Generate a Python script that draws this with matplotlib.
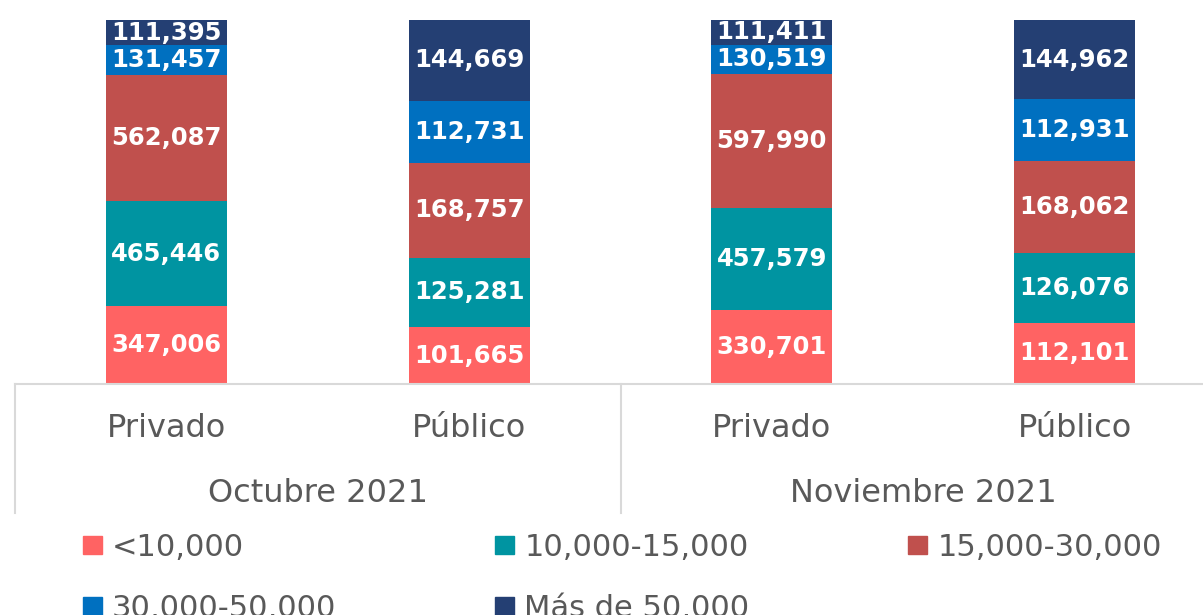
import numpy as np
import matplotlib.pyplot as plt
from matplotlib.patches import Patch

sectores = ['Privado', 'Público', 'Privado', 'Público']
periodos = ['Octubre 2021', 'Noviembre 2021']
rangos = ['<10,000', '10,000-15,000', '15,000-30,000', '30,000-50,000', 'Más de 50,000']

menos_10 = [347006, 101665, 330701, 112101]
de_10_15 = [465446, 125281, 457579, 126076]
de_15_30 = [562087, 168757, 597990, 168062]
de_30_50 = [131457, 112731, 130519, 112931]
mas_50 = [111395, 144669, 111411, 144962]

colores = ['#FF6363', '#0094A1', '#C0504D', '#0070C0', '#243F73']

series = np.array([menos_10, de_10_15, de_15_30, de_30_50, mas_50], dtype=float)
totales = series.sum(axis=0)
pct = series / totales

fig = plt.figure(figsize=(12.03, 6.15), dpi=100)
ax = fig.add_axes([15 / 1203, 1 - 384 / 615, 1211 / 1203, 364 / 615])

x = np.arange(len(sectores))
abajo = np.zeros(len(sectores))
for i, rango in enumerate(rangos):
    ax.bar(x, pct[i], 0.4, bottom=abajo, color=colores[i], label=rango)
    for j in range(len(sectores)):
        ax.text(x[j], abajo[j] + pct[i][j] / 2, f'{int(series[i][j]):,}',
                ha='center', va='center', color='white', fontsize=17.5,
                fontweight='bold', family='DejaVu Sans')
    abajo += pct[i]

ax.set_xlim(-0.5, 3.5)
ax.set_ylim(0, 1)
ax.set_xticks([])
ax.set_yticks([])
for s in ['top', 'left', 'right']:
    ax.spines[s].set_visible(False)
ax.spines['bottom'].set_color('#D9D9D9')
ax.spines['bottom'].set_linewidth(1.5)

gris = '#595959'
tr = ax.get_xaxis_transform()
for j, s in enumerate(sectores):
    ax.text(x[j], -0.123, s, transform=tr, ha='center', va='center',
            fontsize=23, color=gris, family='DejaVu Sans')
for k, p in enumerate(periodos):
    ax.text(2 * k + 0.5, -0.302, p, transform=tr, ha='center', va='center',
            fontsize=23, color=gris, family='DejaVu Sans')
for xs in [-0.5, 1.5, 3.5]:
    ax.plot([xs, xs], [0, -0.354], transform=tr, color='#D9D9D9', lw=1.5,
            clip_on=False)

# orden por filas como en el original (la leyenda llena por columnas)
handles = [Patch(color=c, label=r) for c, r in zip(colores, rangos)]
orden = [0, 3, 1, 4, 2]
handles = [handles[i] for i in orden]
fig.legend(handles=handles, ncol=3, loc='upper left', bbox_to_anchor=(0.069, 0.134),
           frameon=False, handlelength=0.62, handleheight=0.55,
           handletextpad=0.33, columnspacing=5.2, labelspacing=1.05,
           borderpad=0, borderaxespad=0,
           prop={'family': 'DejaVu Sans', 'size': 22},
           labelcolor=gris)

fig.savefig('out.png', dpi=100)
